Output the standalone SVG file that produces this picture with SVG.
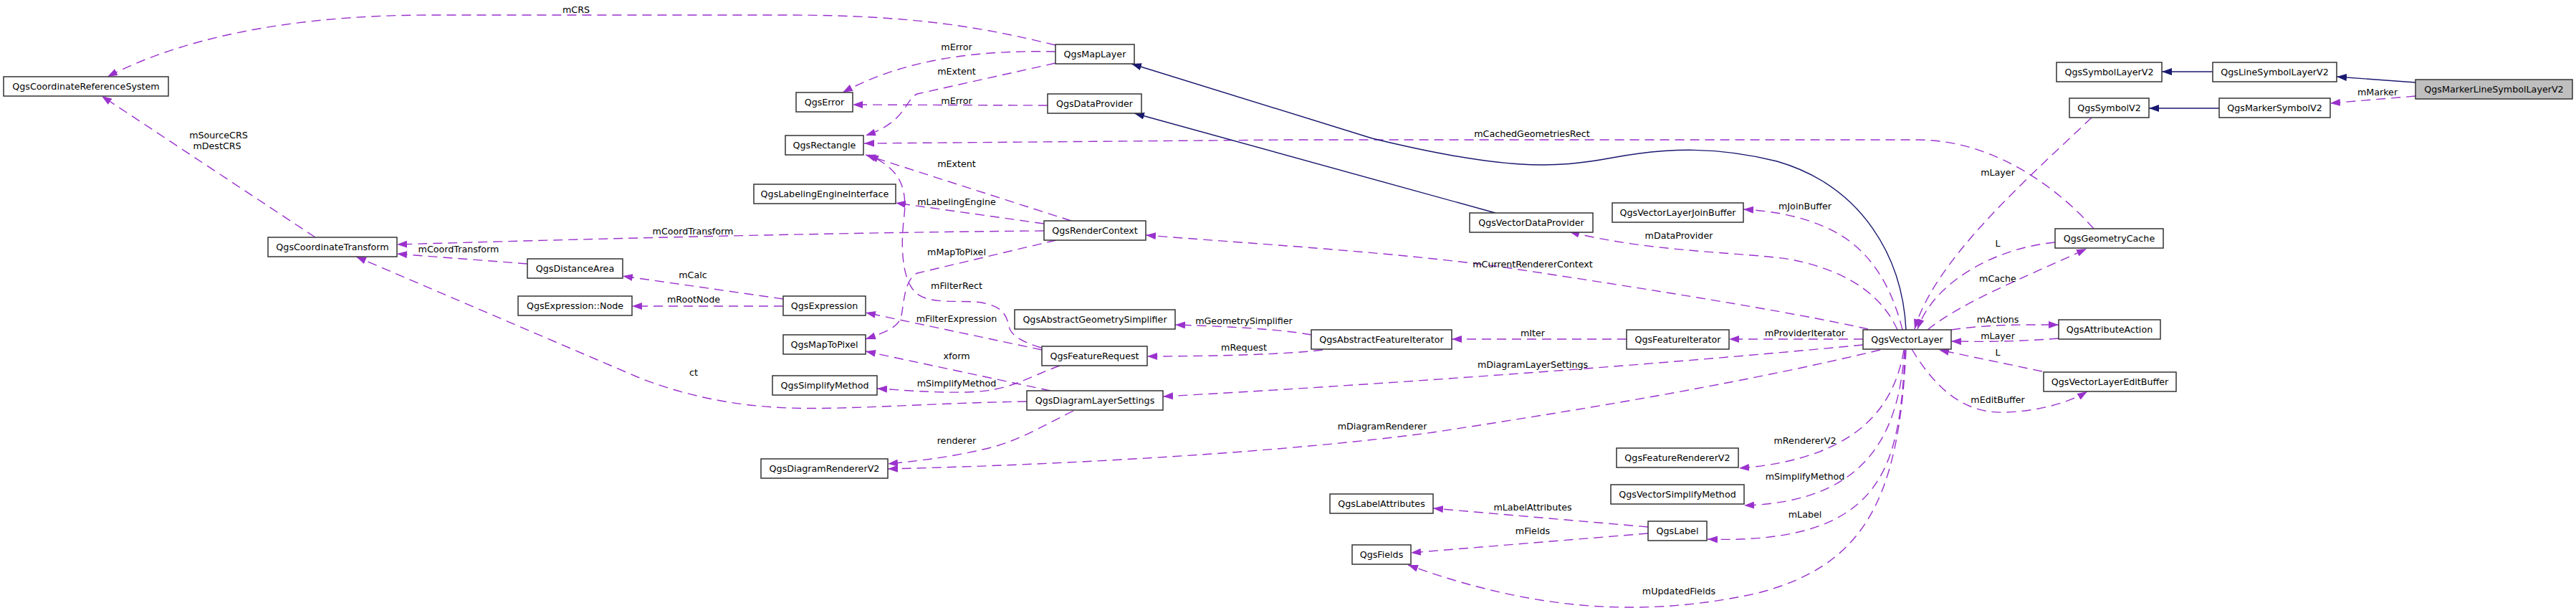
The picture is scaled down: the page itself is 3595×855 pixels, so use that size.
<svg xmlns="http://www.w3.org/2000/svg" width="3595" height="855" viewBox="0 0 3595 855">
<style>
text{font-family:"DejaVu Sans","Liberation Sans",sans-serif;font-size:12.7px;fill:#000;text-anchor:middle}
.node rect{fill:#fff;stroke:#333;stroke-width:1.5}
.node.main rect{fill:#bfbfbf}
.e{fill:none;stroke:#9a32cd;stroke-width:1.4;stroke-dasharray:13,8}
.i{fill:none;stroke:#191970;stroke-width:1.4}
</style>
<defs>
<marker id="ap" viewBox="0 0 14 10" refX="14" refY="5" markerWidth="14" markerHeight="10" markerUnits="userSpaceOnUse" orient="auto"><path d="M0,0 L14,5 L0,10 z" fill="#9a32cd"/></marker>
<marker id="an" viewBox="0 0 14 10" refX="14" refY="5" markerWidth="14" markerHeight="10" markerUnits="userSpaceOnUse" orient="auto"><path d="M0,0 L14,5 L0,10 z" fill="#191970"/></marker>
</defs>
<rect width="3595" height="855" fill="#fff"/>
<g id="edges">
<path class="e" marker-end="url(#ap)" d="M1473,63 C1380,40 1280,21 1100,21 L600,21 C400,21 250,55 150,107"/>
<text x="804" y="17.5">mCRS</text>
<path class="e" marker-end="url(#ap)" d="M440,331 L142,134"/>
<text x="305" y="192.5">mSourceCRS</text>
<text x="303" y="208">mDestCRS</text>
<path class="e" marker-end="url(#ap)" d="M1473,72 C1380,70 1270,78 1176,129"/>
<text x="1335" y="69.5">mError</text>
<path class="e" marker-end="url(#ap)" d="M1462,147 L1190,146"/>
<text x="1335" y="144.5">mError</text>
<path class="e" marker-end="url(#ap)" d="M1473,88 L1280,131 C1262,140 1265,170 1208,189"/>
<text x="1335" y="103.5">mExtent</text>
<path class="e" marker-end="url(#ap)" d="M2922,319 C2870,260 2780,195 2676,195 L1800,195 L1206,200"/>
<text x="2138" y="191">mCachedGeometriesRect</text>
<path class="e" marker-end="url(#ap)" d="M1495,308 L1208,216"/>
<text x="1335" y="232.5">mExtent</text>
<path class="e" marker-end="url(#ap)" d="M1453,485 C1420,475 1410,465 1408,455 C1404,435 1395,427 1370,422 C1340,418 1300,425 1280,410 C1255,390 1258,330 1262,300 C1266,260 1255,235 1212,216"/>
<text x="1335" y="402.5">mFilterRect</text>
<path class="e" marker-end="url(#ap)" d="M1474,335 L1280,381 C1262,390 1262,420 1258,440 C1255,455 1240,462 1208,473"/>
<text x="1335" y="355.5">mMapToPixel</text>
<path class="e" marker-end="url(#ap)" d="M1457,312 L1250,283"/>
<text x="1335" y="285.5">mLabelingEngine</text>
<path class="e" marker-end="url(#ap)" d="M1457,322 C1300,323 1000,328 554,341"/>
<text x="967" y="327">mCoordTransform</text>
<path class="e" marker-end="url(#ap)" d="M736,368 L554,354"/>
<text x="640" y="352">mCoordTransform</text>
<path class="e" marker-end="url(#ap)" d="M1093,417 L869,385"/>
<text x="967" y="387.5">mCalc</text>
<path class="e" marker-end="url(#ap)" d="M1093,427 L882,427"/>
<text x="968" y="422">mRootNode</text>
<path class="e" marker-end="url(#ap)" d="M1454,488 L1208,436"/>
<text x="1335" y="448.5">mFilterExpression</text>
<path class="e" marker-end="url(#ap)" d="M1466,545 L1208,490"/>
<text x="1335" y="500.5">xform</text>
<path class="e" marker-end="url(#ap)" d="M1479,510 C1430,528 1410,545 1350,547 C1300,548 1260,544 1224,542"/>
<text x="1335" y="538.5">mSimplifyMethod</text>
<path class="e" marker-end="url(#ap)" d="M1433,560 C1300,562 1180,572 1100,569 C1020,566 950,550 890,526 L497,358"/>
<text x="968" y="523.5">ct</text>
<path class="e" marker-end="url(#ap)" d="M1498,573 C1450,597 1420,615 1380,625 C1330,637 1290,642 1239,647"/>
<text x="1335" y="618.5">renderer</text>
<path class="e" marker-end="url(#ap)" d="M2624,488 C2450,530 2250,565 2000,603 C1800,630 1500,648 1239,654"/>
<text x="1929" y="598.5">mDiagramRenderer</text>
<path class="e" marker-end="url(#ap)" d="M2600,481 C2300,510 1900,538 1623,553"/>
<text x="2139" y="512.5">mDiagramLayerSettings</text>
<path class="e" marker-end="url(#ap)" d="M1830,467 C1780,458 1700,455 1640,453"/>
<text x="1736" y="452">mGeometrySimplifier</text>
<path class="e" marker-end="url(#ap)" d="M1846,488 C1800,494 1700,497 1601,497"/>
<text x="1736" y="488.5">mRequest</text>
<path class="e" marker-end="url(#ap)" d="M2270,473 L2026,473"/>
<text x="2139" y="468.5">mIter</text>
<path class="e" marker-end="url(#ap)" d="M2600,473 L2413,473"/>
<text x="2519" y="468.5">mProviderIterator</text>
<path class="e" marker-end="url(#ap)" d="M2607,459 C2500,435 2300,403 2100,373 C1950,352 1750,340 1599,328"/>
<text x="2139" y="372.5">mCurrentRendererContext</text>
<path class="e" marker-end="url(#ap)" d="M2648,460 C2630,420 2590,380 2500,362 C2440,352 2300,352 2190,323"/>
<text x="2343" y="332.5">mDataProvider</text>
<path class="e" marker-end="url(#ap)" d="M2655,460 C2640,400 2610,345 2550,318 C2510,300 2470,294 2433,292"/>
<text x="2519" y="291.5">mJoinBuffer</text>
<path class="i" marker-end="url(#an)" d="M2087,297 L1583,158"/>
<path class="i" marker-end="url(#an)" d="M2660,460 C2655,360 2600,260 2480,225 C2400,205 2330,205 2250,220 C2170,235 2100,238 1915,193 L1579,89"/>
<path class="e" marker-end="url(#ap)" d="M2919,164 C2840,240 2700,360 2672,459"/>
<text x="2788" y="244.5">mLayer</text>
<path class="e" marker-end="url(#ap)" d="M2868,338 C2790,345 2700,390 2676,459"/>
<text x="2788" y="343.5">L</text>
<path class="e" marker-end="url(#ap)" d="M2690,460 C2740,420 2830,385 2912,347"/>
<text x="2788" y="392.5">mCache</text>
<path class="e" marker-end="url(#ap)" d="M2723,460 C2780,452 2820,453 2873,453"/>
<text x="2788" y="449.5">mActions</text>
<path class="e" marker-end="url(#ap)" d="M2873,472 C2820,476 2780,477 2723,476"/>
<text x="2788" y="472.5">mLayer</text>
<path class="e" marker-end="url(#ap)" d="M2850,518 L2706,488"/>
<text x="2788" y="495.5">L</text>
<path class="e" marker-end="url(#ap)" d="M2668,487 C2700,540 2740,578 2800,575 C2850,573 2890,560 2913,546"/>
<text x="2788" y="561.5">mEditBuffer</text>
<path class="e" marker-end="url(#ap)" d="M2657,488 C2645,560 2600,640 2427,653"/>
<text x="2519" y="618.5">mRendererV2</text>
<path class="e" marker-end="url(#ap)" d="M2658,488 C2650,600 2610,700 2434,705"/>
<text x="2519" y="668.5">mSimplifyMethod</text>
<path class="e" marker-end="url(#ap)" d="M2659,488 C2650,640 2640,760 2383,752"/>
<text x="2519" y="721.5">mLabel</text>
<path class="e" marker-end="url(#ap)" d="M2660,488 C2650,700 2600,790 2450,828 C2300,860 2150,855 1965,788"/>
<text x="2343" y="828.5">mUpdatedFields</text>
<path class="e" marker-end="url(#ap)" d="M2300,735 L2000,709"/>
<text x="2139" y="711.5">mLabelAttributes</text>
<path class="e" marker-end="url(#ap)" d="M2300,744 L1969,771"/>
<text x="2139" y="744.5">mFields</text>
<path class="i" marker-end="url(#an)" d="M3088,100 L3017,100"/>
<path class="i" marker-end="url(#an)" d="M3097,151 L2999,151"/>
<path class="i" marker-end="url(#an)" d="M3371,115 L3261,107"/>
<path class="e" marker-end="url(#ap)" d="M3371,134 L3252,144"/>
<text x="3318" y="132.5">mMarker</text>
</g>
<g id="n_crs" class="node"><rect x="5" y="107" width="230" height="27"/><text x="120" y="125">QgsCoordinateReferenceSystem</text></g>
<g id="n_ct" class="node"><rect x="374" y="331" width="180" height="27"/><text x="464" y="349">QgsCoordinateTransform</text></g>
<g id="n_error" class="node"><rect x="1111" y="129" width="79" height="27"/><text x="1150.5" y="147">QgsError</text></g>
<g id="n_rect" class="node"><rect x="1096" y="189" width="109" height="27"/><text x="1150.5" y="207">QgsRectangle</text></g>
<g id="n_lei" class="node"><rect x="1052" y="257" width="198" height="27"/><text x="1151" y="275">QgsLabelingEngineInterface</text></g>
<g id="n_da" class="node"><rect x="736" y="361" width="133" height="27"/><text x="802.5" y="379">QgsDistanceArea</text></g>
<g id="n_exprnode" class="node"><rect x="723" y="413" width="159" height="27"/><text x="802.5" y="431">QgsExpression::Node</text></g>
<g id="n_expr" class="node"><rect x="1093" y="413" width="115" height="27"/><text x="1150.5" y="431">QgsExpression</text></g>
<g id="n_m2p" class="node"><rect x="1093" y="467" width="115" height="27"/><text x="1150.5" y="485">QgsMapToPixel</text></g>
<g id="n_sm" class="node"><rect x="1078" y="524" width="146" height="27"/><text x="1151" y="542">QgsSimplifyMethod</text></g>
<g id="n_drv2" class="node"><rect x="1062" y="640" width="177" height="27"/><text x="1150.5" y="658">QgsDiagramRendererV2</text></g>
<g id="n_maplayer" class="node"><rect x="1473" y="62" width="110" height="27"/><text x="1528" y="80">QgsMapLayer</text></g>
<g id="n_dp" class="node"><rect x="1462" y="131" width="131" height="27"/><text x="1527.5" y="149">QgsDataProvider</text></g>
<g id="n_rc" class="node"><rect x="1457" y="308" width="142" height="27"/><text x="1528" y="326">QgsRenderContext</text></g>
<g id="n_ags" class="node"><rect x="1416" y="432" width="224" height="27"/><text x="1528" y="450">QgsAbstractGeometrySimplifier</text></g>
<g id="n_fr" class="node"><rect x="1454" y="483" width="147" height="27"/><text x="1527.5" y="501">QgsFeatureRequest</text></g>
<g id="n_dls" class="node"><rect x="1433" y="545" width="190" height="27"/><text x="1528" y="563">QgsDiagramLayerSettings</text></g>
<g id="n_vdp" class="node"><rect x="2051" y="297" width="172" height="27"/><text x="2137" y="315">QgsVectorDataProvider</text></g>
<g id="n_vljb" class="node"><rect x="2250" y="283" width="183" height="27"/><text x="2341.5" y="301">QgsVectorLayerJoinBuffer</text></g>
<g id="n_afi" class="node"><rect x="1830" y="460" width="196" height="27"/><text x="1928" y="478">QgsAbstractFeatureIterator</text></g>
<g id="n_fi" class="node"><rect x="2270" y="460" width="143" height="27"/><text x="2341.5" y="478">QgsFeatureIterator</text></g>
<g id="n_frv2" class="node"><rect x="2256" y="625" width="170" height="27"/><text x="2341" y="643">QgsFeatureRendererV2</text></g>
<g id="n_vsm" class="node"><rect x="2248" y="676" width="186" height="27"/><text x="2341" y="694">QgsVectorSimplifyMethod</text></g>
<g id="n_la" class="node"><rect x="1856" y="689" width="144" height="27"/><text x="1928" y="707">QgsLabelAttributes</text></g>
<g id="n_label" class="node"><rect x="2300" y="727" width="82" height="27"/><text x="2341" y="745">QgsLabel</text></g>
<g id="n_fields" class="node"><rect x="1887" y="760" width="82" height="27"/><text x="1928" y="778">QgsFields</text></g>
<g id="n_slv2" class="node"><rect x="2870" y="87" width="147" height="27"/><text x="2943.5" y="105">QgsSymbolLayerV2</text></g>
<g id="n_sv2" class="node"><rect x="2888" y="137" width="111" height="27"/><text x="2943.5" y="155">QgsSymbolV2</text></g>
<g id="n_gc" class="node"><rect x="2868" y="319" width="151" height="27"/><text x="2943.5" y="337">QgsGeometryCache</text></g>
<g id="n_vl" class="node"><rect x="2600" y="460" width="123" height="27"/><text x="2661.5" y="478">QgsVectorLayer</text></g>
<g id="n_aa" class="node"><rect x="2873" y="446" width="142" height="27"/><text x="2944" y="464">QgsAttributeAction</text></g>
<g id="n_vleb" class="node"><rect x="2852" y="519" width="185" height="27"/><text x="2944.5" y="537">QgsVectorLayerEditBuffer</text></g>
<g id="n_lslv2" class="node"><rect x="3088" y="87" width="173" height="27"/><text x="3174.5" y="105">QgsLineSymbolLayerV2</text></g>
<g id="n_msv2" class="node"><rect x="3097" y="137" width="155" height="27"/><text x="3174.5" y="155">QgsMarkerSymbolV2</text></g>
<g id="n_mlslv2" class="node main"><rect x="3371" y="111" width="219" height="27"/><text x="3480.5" y="129">QgsMarkerLineSymbolLayerV2</text></g>
</svg>
